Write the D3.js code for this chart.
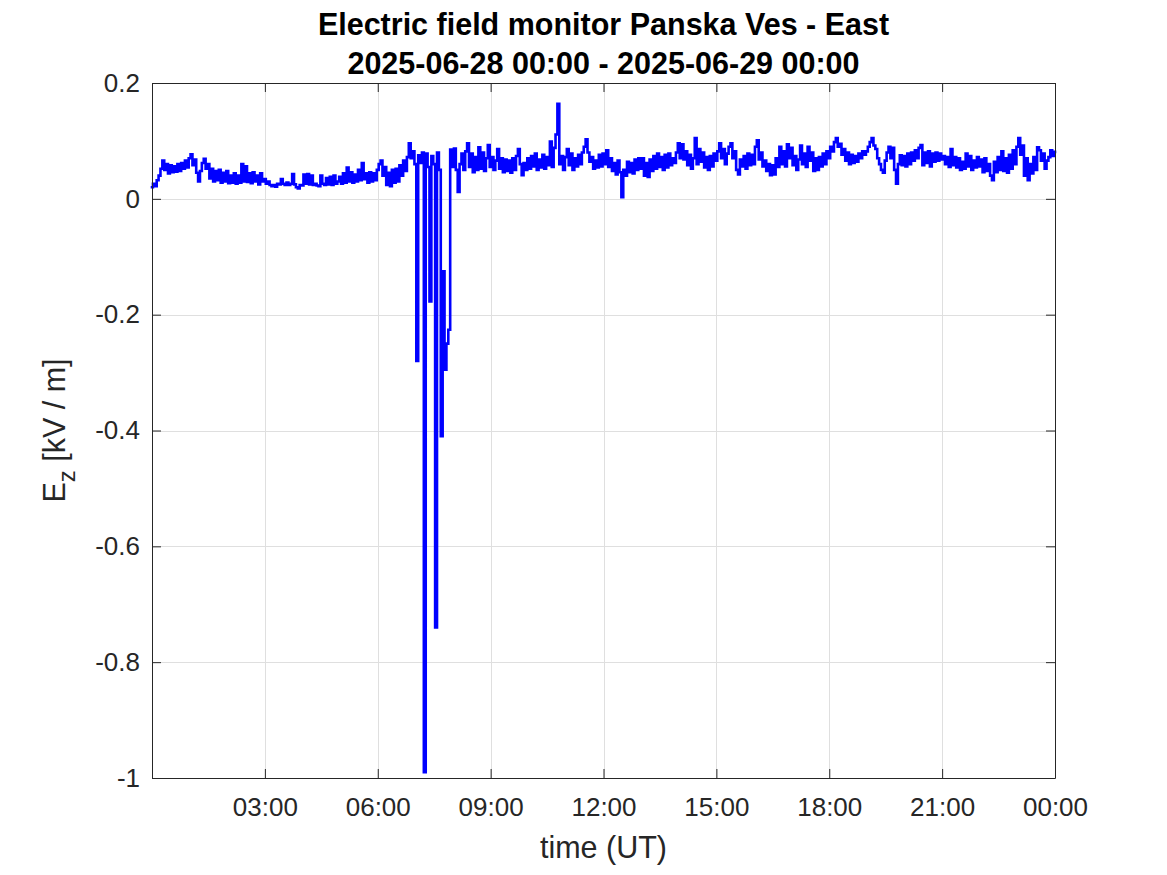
<!DOCTYPE html>
<html>
<head>
<meta charset="utf-8">
<script src="https://cdn.jsdelivr.net/npm/d3@7"></script>
<style>
  html, body { margin: 0; padding: 0; background: #fff; }
  svg { display: block; }
  text { font-family: "Liberation Sans", Arial, Helvetica, sans-serif; }
</style>
</head>
<body>
<svg id="chart" width="1167" height="875"></svg>
<script>
// ---- Data ----
const titleLines = ["Electric field monitor Panska Ves - East", "2025-06-28 00:00 - 2025-06-29 00:00"];
const xLabel = "time (UT)";
const sampleStepHours = 0.05; // one sample every 3 minutes, starting 00:00
const ezValues = [
  // 00:00
  0.020,0.026,0.022,0.032,0.040,0.052,0.066,0.050,0.060,0.044,0.058,0.046,0.056,0.047,0.060,0.048,0.062,0.052,0.066,0.054,
  // 01:00
  0.070,0.077,0.058,0.068,0.045,0.030,0.048,0.062,0.069,0.052,0.060,0.035,0.052,0.030,0.048,0.032,0.050,0.028,0.045,0.030,
  // 02:00
  0.048,0.027,0.040,0.028,0.044,0.026,0.040,0.028,0.060,0.030,0.056,0.029,0.044,0.027,0.046,0.030,0.040,0.025,0.044,0.030,
  // 03:00
  0.034,0.026,0.030,0.024,0.022,0.024,0.021,0.026,0.025,0.034,0.026,0.024,0.028,0.024,0.026,0.043,0.025,0.020,0.018,0.024,
  // 04:00
  0.023,0.042,0.026,0.043,0.025,0.040,0.024,0.026,0.023,0.022,0.040,0.026,0.024,0.036,0.025,0.038,0.024,0.040,0.026,0.030,
  // 05:00
  0.038,0.026,0.044,0.028,0.054,0.030,0.046,0.028,0.042,0.030,0.050,0.032,0.062,0.034,0.044,0.028,0.046,0.030,0.044,0.032,
  // 06:00
  0.050,0.060,0.066,0.040,0.055,0.024,0.045,0.022,0.050,0.028,0.052,0.030,0.058,0.040,0.066,0.048,0.072,0.096,0.070,0.082,
  // 07:00
  0.060,-0.280,0.075,0.062,0.080,-0.990,0.078,0.055,-0.177,0.074,0.060,-0.740,0.080,0.050,-0.410,-0.125,-0.295,-0.250,-0.226,0.085,
  // 08:00
  0.055,0.087,0.050,0.012,0.060,0.078,0.050,0.082,0.096,0.055,0.078,0.046,0.072,0.050,0.089,0.052,0.080,0.048,0.070,0.093,
  // 09:00
  0.055,0.072,0.050,0.066,0.086,0.052,0.070,0.046,0.068,0.048,0.066,0.045,0.070,0.050,0.074,0.086,0.060,0.041,0.062,0.050,
  // 10:00
  0.070,0.052,0.074,0.056,0.078,0.050,0.068,0.054,0.076,0.052,0.072,0.058,0.099,0.055,0.088,0.111,0.164,0.060,0.074,0.050,
  // 11:00
  0.072,0.086,0.058,0.078,0.050,0.070,0.056,0.076,0.060,0.080,0.090,0.103,0.080,0.064,0.072,0.052,0.066,0.054,0.076,0.056,
  // 12:00
  0.078,0.060,0.084,0.055,0.070,0.048,0.062,0.042,0.066,0.046,0.003,0.050,0.040,0.064,0.046,0.062,0.044,0.068,0.050,0.070,
  // 13:00
  0.052,0.070,0.040,0.062,0.038,0.068,0.048,0.074,0.052,0.078,0.055,0.072,0.050,0.076,0.054,0.078,0.058,0.070,0.062,0.080,
  // 14:00
  0.096,0.070,0.094,0.068,0.082,0.058,0.076,0.052,0.070,0.105,0.060,0.086,0.064,0.080,0.054,0.072,0.050,0.074,0.056,0.078,
  // 15:00
  0.066,0.082,0.096,0.070,0.086,0.060,0.078,0.090,0.096,0.070,0.082,0.050,0.042,0.068,0.056,0.074,0.052,0.078,0.058,0.076,
  // 16:00
  0.060,0.090,0.101,0.068,0.080,0.056,0.066,0.048,0.060,0.041,0.058,0.042,0.070,0.055,0.090,0.060,0.082,0.056,0.094,0.070,
  // 17:00
  0.088,0.058,0.074,0.050,0.068,0.092,0.060,0.078,0.055,0.090,0.066,0.080,0.048,0.070,0.050,0.072,0.056,0.078,0.060,0.082,
  // 18:00
  0.070,0.090,0.082,0.098,0.105,0.090,0.095,0.076,0.086,0.066,0.080,0.060,0.076,0.062,0.074,0.064,0.078,0.070,0.082,0.076,
  // 19:00
  0.082,0.090,0.098,0.105,0.092,0.086,0.070,0.060,0.050,0.045,0.066,0.080,0.090,0.070,0.088,0.050,0.026,0.060,0.075,0.058,
  // 20:00
  0.074,0.056,0.078,0.060,0.080,0.066,0.084,0.070,0.088,0.093,0.058,0.080,0.062,0.082,0.056,0.078,0.064,0.080,0.066,0.078,
  // 21:00
  0.068,0.074,0.060,0.072,0.055,0.086,0.058,0.072,0.054,0.070,0.050,0.064,0.052,0.078,0.056,0.074,0.050,0.066,0.054,0.072,
  // 22:00
  0.056,0.068,0.046,0.070,0.048,0.060,0.040,0.032,0.064,0.046,0.072,0.050,0.082,0.048,0.070,0.045,0.076,0.052,0.084,0.060,
  // 23:00
  0.090,0.105,0.076,0.092,0.040,0.070,0.032,0.060,0.044,0.072,0.050,0.089,0.084,0.066,0.078,0.052,0.066,0.072,0.084,0.074,
  // 24:00
  0.081
];
const xTickHours  = [3, 6, 9, 12, 15, 18, 21, 24];
const xTickLabels = ["03:00", "06:00", "09:00", "12:00", "15:00", "18:00", "21:00", "00:00"];
const yTickValues = [0.2, 0, -0.2, -0.4, -0.6, -0.8, -1];
const yTickLabels = ["0.2", "0", "-0.2", "-0.4", "-0.6", "-0.8", "-1"];

// ---- Layout ----
const svg = d3.select("#chart");
const mLeft = 152, mRight = 1055, mTop = 83, mBottom = 778;
const x = d3.scaleLinear().domain([0, 24]).range([mLeft, mRight]);
const y = d3.scaleLinear().domain([-1, 0.2]).range([mBottom, mTop]);
const axisColor = "#262626";
const gridColor = "#dfdfdf";
const tickLen = 9;

// grid
const grid = svg.append("g");
grid.selectAll("line.gx").data(xTickHours.filter(h => h < 24)).join("line")
  .attr("x1", d => Math.round(x(d)) + 0.5).attr("x2", d => Math.round(x(d)) + 0.5)
  .attr("y1", mTop).attr("y2", mBottom)
  .attr("stroke", gridColor).attr("stroke-width", 1);
grid.selectAll("line.gy").data(yTickValues.filter(v => v > -1 && v < 0.2)).join("line")
  .attr("y1", d => Math.round(y(d)) + 0.5).attr("y2", d => Math.round(y(d)) + 0.5)
  .attr("x1", mLeft).attr("x2", mRight)
  .attr("stroke", gridColor).attr("stroke-width", 1);

// data line
const data = ezValues.map((v, i) => [i * sampleStepHours, v]);
const line = d3.line().x(d => x(d[0])).y(d => y(d[1])).curve(d3.curveStep);
svg.append("path")
  .datum(data)
  .attr("d", line)
  .attr("fill", "none")
  .attr("stroke", "#0000ff")
  .attr("stroke-width", 2.6)
  .attr("stroke-linejoin", "miter")
  .attr("stroke-linecap", "square");

// axes (inward ticks, on all four sides)
const fmtX = d => xTickLabels[xTickHours.indexOf(d)];
const fmtY = d => yTickLabels[yTickValues.indexOf(d)];

const xAxisB = d3.axisBottom(x).tickValues(xTickHours).tickFormat(fmtX).tickSizeInner(-tickLen).tickSizeOuter(0).tickPadding(20);
const xAxisT = d3.axisTop(x).tickValues(xTickHours).tickFormat("").tickSizeInner(-tickLen).tickSizeOuter(0);
const yAxisL = d3.axisLeft(y).tickValues(yTickValues).tickFormat(fmtY).tickSizeInner(-tickLen).tickSizeOuter(0).tickPadding(12);
const yAxisR = d3.axisRight(y).tickValues(yTickValues).tickFormat("").tickSizeInner(-tickLen).tickSizeOuter(0);

function styleAxis(g) {
  g.selectAll("path").attr("stroke", axisColor).attr("stroke-width", 1);
  g.selectAll("line").attr("stroke", axisColor).attr("stroke-width", 1);
  g.selectAll("text").attr("fill", axisColor).style("font-size", "26px")
    .style("font-family", '"Liberation Sans", Arial, sans-serif');
}
svg.append("g").attr("transform", `translate(0,${mBottom})`).call(xAxisB).call(styleAxis);
svg.append("g").attr("transform", `translate(0,${mTop})`).call(xAxisT).call(styleAxis);
svg.append("g").attr("transform", `translate(${mLeft},0)`).call(yAxisL).call(styleAxis);
svg.append("g").attr("transform", `translate(${mRight},0)`).call(yAxisR).call(styleAxis);
svg.selectAll(".domain").attr("stroke", axisColor);

// title
svg.append("text").attr("x", (mLeft + mRight) / 2).attr("y", 35)
  .attr("text-anchor", "middle").attr("font-weight", "bold").attr("font-size", 30.5).attr("fill", "#000")
  .text(titleLines[0]);
svg.append("text").attr("x", (mLeft + mRight) / 2).attr("y", 74)
  .attr("text-anchor", "middle").attr("font-weight", "bold").attr("font-size", 30.5).attr("fill", "#000")
  .text(titleLines[1]);

// x label
svg.append("text").attr("x", (mLeft + mRight) / 2).attr("y", 858)
  .attr("text-anchor", "middle").attr("font-size", 30.5).attr("fill", axisColor)
  .text(xLabel);

// y label  E_z [kV / m]
const yl = svg.append("text")
  .attr("transform", `translate(65,${(mTop + mBottom) / 2}) rotate(-90)`)
  .attr("text-anchor", "middle").attr("font-size", 30.5).attr("fill", axisColor);
yl.append("tspan").text("E");
yl.append("tspan").attr("dy", 10).attr("font-size", 24).text("z");
yl.append("tspan").attr("dy", -10).text(" [kV / m]");
</script>
</body>
</html>
